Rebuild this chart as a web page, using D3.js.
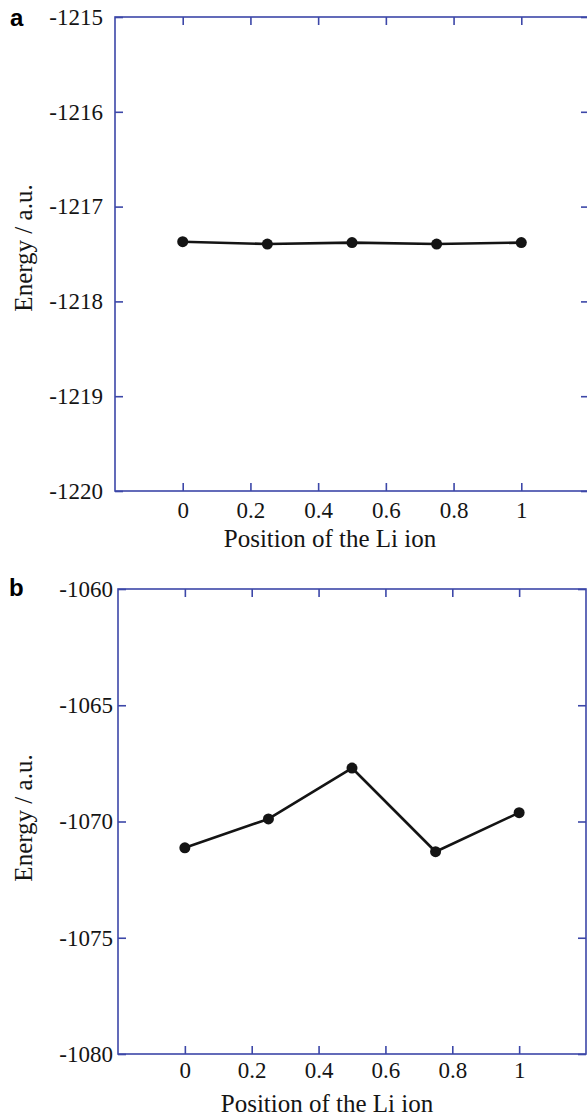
<!DOCTYPE html>
<html>
<head>
<meta charset="utf-8">
<script src="https://cdn.jsdelivr.net/npm/d3@7"></script>
<style>
  html, body { margin: 0; padding: 0; background: #fff; }
  svg { display: block; }
</style>
</head>
<body>
<svg id="chart" width="587" height="1117"></svg>
<script>
// Fractional position of the Li ion along the path
const positions = [0, 0.25, 0.5, 0.75, 1];

// Total energy (a.u.) at each position, panel a and panel b
const energyA = [-1217.37, -1217.395, -1217.38, -1217.395, -1217.38];
const energyB = [-1071.13, -1069.89, -1067.70, -1071.30, -1069.62];

// Tick values
const xTicks = [0, 0.2, 0.4, 0.6, 0.8, 1];
const yTicksA = [-1215, -1216, -1217, -1218, -1219, -1220];
const yTicksB = [-1060, -1065, -1070, -1075, -1080];

const axisColor = "#3c47a8";
const inkColor = "#141414";
const serif = "'Liberation Serif', 'Times New Roman', serif";

const svg = d3.select("#chart");

function drawPanel(p) {
  const g = svg.append("g");

  const x = d3.scaleLinear().domain([-0.2, 1.2]).range([p.left, p.right]);
  const y = d3.scaleLinear().domain(p.yDomain).range([p.bottom, p.top]);

  // frame
  g.append("rect")
    .attr("x", p.left).attr("y", p.top)
    .attr("width", p.right - p.left).attr("height", p.bottom - p.top)
    .attr("fill", "none").attr("stroke", axisColor).attr("stroke-width", 1.6);

  const styleAxis = sel => {
    sel.select(".domain").remove();
    sel.selectAll(".tick line").attr("stroke", axisColor).attr("stroke-width", 1.6);
    sel.selectAll(".tick text")
      .attr("fill", inkColor)
      .style("font-family", serif)
      .style("font-size", "23px");
  };

  // bottom axis with labels, inward ticks
  g.append("g")
    .attr("transform", `translate(0,${p.bottom})`)
    .call(d3.axisBottom(x).tickValues(xTicks).tickFormat(d => String(d))
      .tickSizeInner(-8).tickSizeOuter(0).tickPadding(p.xPad))
    .call(styleAxis);

  // top axis ticks only
  g.append("g")
    .attr("transform", `translate(0,${p.top})`)
    .call(d3.axisTop(x).tickValues(xTicks).tickFormat("")
      .tickSizeInner(-8).tickSizeOuter(0))
    .call(styleAxis);

  // left axis with labels
  g.append("g")
    .attr("transform", `translate(${p.left},0)`)
    .call(d3.axisLeft(y).tickValues(p.yTicks).tickFormat(d => String(d))
      .tickSizeInner(-8).tickSizeOuter(0).tickPadding(p.yPad))
    .call(styleAxis);

  // right axis ticks only
  g.append("g")
    .attr("transform", `translate(${p.right},0)`)
    .call(d3.axisRight(y).tickValues(p.yTicks).tickFormat("")
      .tickSizeInner(-8).tickSizeOuter(0))
    .call(styleAxis);

  // series line
  const pts = positions.map((d, i) => [d, p.values[i]]);
  g.append("path")
    .datum(pts)
    .attr("fill", "none")
    .attr("stroke", inkColor)
    .attr("stroke-width", 2.6)
    .attr("stroke-linejoin", "round")
    .attr("d", d3.line().x(d => x(d[0])).y(d => y(d[1])));

  g.selectAll("circle.pt")
    .data(pts)
    .join("circle")
    .attr("class", "pt")
    .attr("cx", d => x(d[0]))
    .attr("cy", d => y(d[1]))
    .attr("r", 5.5)
    .attr("fill", inkColor);

  // axis titles
  g.append("text")
    .attr("x", p.xTitleX).attr("y", p.xTitleY)
    .attr("text-anchor", "middle")
    .attr("fill", inkColor)
    .style("font-family", serif).style("font-size", "25px")
    .text("Position of the Li ion");

  g.append("text")
    .attr("transform", `translate(${p.yTitleX},${p.yTitleY}) rotate(-90)`)
    .attr("text-anchor", "middle")
    .attr("fill", inkColor)
    .style("font-family", serif).style("font-size", "25px")
    .text("Energy / a.u.");

  // panel letter
  g.append("text")
    .attr("x", p.letterX).attr("y", p.letterY)
    .attr("fill", "#000")
    .style("font-family", "'Liberation Sans', Arial, sans-serif")
    .style("font-weight", "bold").style("font-size", "24px")
    .text(p.letter);
}

drawPanel({
  letter: "a", letterX: 10, letterY: 26,
  left: 115, right: 589, top: 17, bottom: 491,
  yDomain: [-1220, -1215], yTicks: yTicksA, values: energyA,
  xPad: 11, yPad: 12,
  xTitleX: 330, xTitleY: 547,
  yTitleX: 32, yTitleY: 248
});

drawPanel({
  letter: "b", letterX: 9, letterY: 596,
  left: 118, right: 586, top: 589, bottom: 1054,
  yDomain: [-1080, -1060], yTicks: yTicksB, values: energyB,
  xPad: 8, yPad: 5,
  xTitleX: 327, xTitleY: 1112,
  yTitleX: 32, yTitleY: 818
});
</script>
</body>
</html>
